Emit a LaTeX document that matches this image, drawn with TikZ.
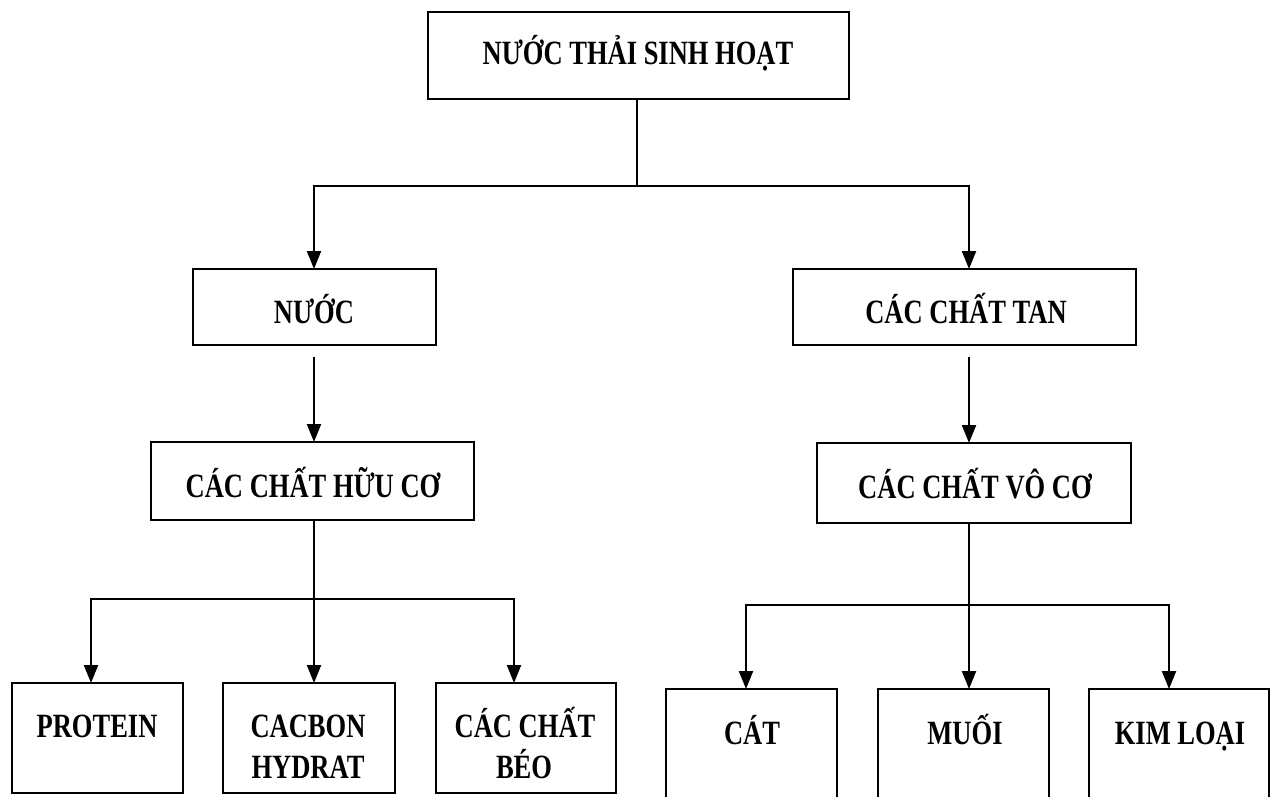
\documentclass[tikz,border=0pt]{standalone}
\usepackage{fontspec}
\newfontfamily\diagfont{Liberation Serif}[FakeStretch=0.78]
\usetikzlibrary{arrows.meta,calc}

\tikzset{
  box/.style={draw, line width=2.6pt, inner sep=0pt, outer sep=0pt, anchor=north west},
  lbl/.style={font=\diagfont\bfseries\fontsize{34}{40}\selectfont, anchor=base, inner sep=0pt},
  conn/.style={line width=2.2pt},
  arr/.style={conn, -{Triangle[length=18pt,width=14pt]}}
}

\begin{document}
\begin{tikzpicture}[x=1pt, y=-1pt]
  \fill[white] (0,0) rectangle (1270,797);
  \useasboundingbox (0,0) rectangle (1270,797);

  % boxes
  \node[box, minimum width=421pt, minimum height=87pt]  (top)     at (428,12)  {};
  \node[box, minimum width=243pt, minimum height=76pt]  (nuoc)    at (193,269) {};
  \node[box, minimum width=343pt, minimum height=76pt]  (tan)     at (793,269) {};
  \node[box, minimum width=323pt, minimum height=78pt]  (huuco)   at (151,442) {};
  \node[box, minimum width=314pt, minimum height=80pt]  (voco)    at (817,443) {};
  \node[box, minimum width=171pt, minimum height=110pt] (protein) at (12,683)  {};
  \node[box, minimum width=172pt, minimum height=110pt] (cacbon)  at (223,683) {};
  \node[box, minimum width=180pt, minimum height=110pt] (beo)     at (436,683) {};
  \node[box, minimum width=171pt, minimum height=135pt] (cat)     at (666,689) {};
  \node[box, minimum width=171pt, minimum height=135pt] (muoi)    at (878,689) {};
  \node[box, minimum width=180pt, minimum height=135pt] (kim)     at (1089,689) {};

  % labels
  \node[lbl] (top-t)     at (638,65)  {NƯỚC THẢI SINH HOẠT};
  \node[lbl] (nuoc-t)    at (314,323) {NƯỚC};
  \node[lbl] (tan-t)     at (966,323) {CÁC CHẤT TAN};
  \node[lbl] (huuco-t)   at (313,497) {CÁC CHẤT HỮU CƠ};
  \node[lbl] (voco-t)    at (975,498) {CÁC CHẤT VÔ CƠ};
  \node[lbl] (protein-t) at (97,737)  {PROTEIN};
  \node[lbl] (cacbon-t1) at (308,737) {CACBON};
  \node[lbl] (cacbon-t2) at (308,778) {HYDRAT};
  \node[lbl] (beo-t1)    at (525,737) {CÁC CHẤT};
  \node[lbl] (beo-t2)    at (524,778) {BÉO};
  \node[lbl] (cat-t)     at (752,744) {CÁT};
  \node[lbl] (muoi-t)    at (965,744) {MUỐI};
  \node[lbl] (kim-t)     at (1180,744) {KIM LOẠI};

  % junctions
  \coordinate (j1) at (637,186);
  \coordinate (j2) at (314,599);
  \coordinate (j3) at (969,605);

  % top level split
  \draw[conn] (top.south -| j1) -- (j1);
  \draw[arr] (j1) -| ([xshift=-0.5pt]nuoc.north);
  \draw[arr] (j1) -| ([xshift=4.5pt]tan.north);

  % second level
  \draw[arr] ($(nuoc.south -| j2)+(0,12)$) -- (j2 |- huuco.north);
  \draw[arr] ($(tan.south -| j3)+(0,12)$) -- (j3 |- voco.north);

  % organic branch
  \draw[conn] (huuco.south -| j2) -- (j2);
  \draw[arr] (j2) -| ([xshift=-6.5pt]protein.north);
  \draw[arr] (j2) -- (j2 |- cacbon.north);
  \draw[arr] (j2) -| ([xshift=-12pt]beo.north);

  % inorganic branch
  \draw[conn] (voco.south -| j3) -- (j3);
  \draw[arr] (j3) -| ([xshift=-5.5pt]cat.north);
  \draw[arr] (j3) -- (j3 |- muoi.north);
  \draw[arr] (j3) -| ([xshift=-10pt]kim.north);
\end{tikzpicture}
\end{document}
